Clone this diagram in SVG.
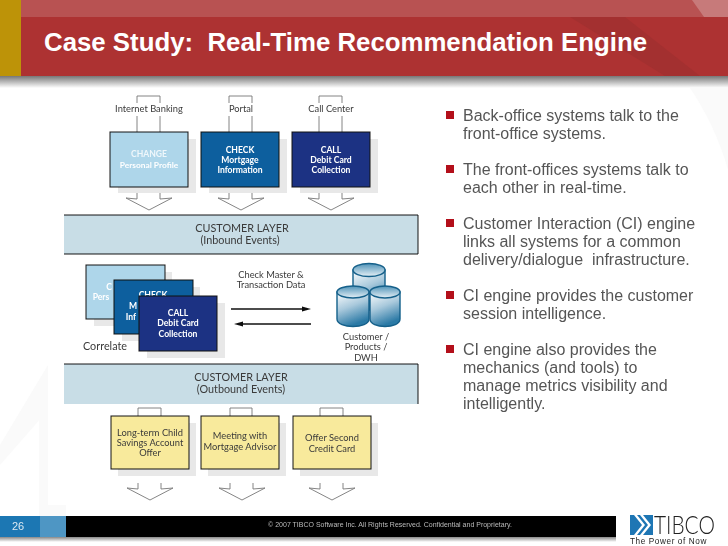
<svg xmlns="http://www.w3.org/2000/svg" width="728" height="546" viewBox="0 0 728 546">
<style>
.d{font-family:"Lato","Liberation Sans",sans-serif;font-size:9.3px;fill:#3a3a3a;text-anchor:middle}
.l{font-size:10.8px}
.w{font-family:"Lato","Liberation Sans",sans-serif;font-size:8.6px;font-weight:700;fill:#fff;text-anchor:middle}
.b{font-family:"Liberation Sans",Arial,sans-serif;font-size:16px;fill:#555}
.sh{fill:#e8e8e8}
.card{stroke:#111;stroke-width:1}
.layer{fill:#c8dde6}
.edge{stroke:#111;stroke-width:1;fill:none}
.ar{fill:none;stroke:#777;stroke-width:.9}
.bl{fill:#b30f1a}
.cy{fill:url(#cyl);stroke:#15608a;stroke-width:1.4}
.ct{fill:url(#cyt);stroke:#15608a;stroke-width:1.4}
</style>
<defs>
<linearGradient id="hs" x1="0" y1="0" x2="0" y2="1"><stop offset="0" stop-color="#777"/><stop offset="1" stop-color="#fff"/></linearGradient>
<linearGradient id="fs" x1="0" y1="0" x2="0" y2="1"><stop offset="0" stop-color="#888"/><stop offset="1" stop-color="#fff"/></linearGradient>
<linearGradient id="cyl" x1="0" y1="0" x2=".35" y2="1"><stop offset="0" stop-color="#fff"/><stop offset=".5" stop-color="#a9c9dc"/><stop offset="1" stop-color="#2c7aa6"/></linearGradient>
<linearGradient id="cyt" x1="0" y1="0" x2="0" y2="1"><stop offset="0" stop-color="#4f93b8"/><stop offset="1" stop-color="#e6f0f6"/></linearGradient>
<filter id="soft" x="-2%" y="-2%" width="104%" height="104%"><feGaussianBlur stdDeviation="0.35"/></filter>
<path id="down" class="ar" d="M0 0V6L-11 5 12 17 35 5 23 6V0"/>
<path id="up" class="ar" d="M0 36V0H23V36"/>
</defs>
<g id="background">
<rect width="728" height="546" fill="#fff"/>
<path d="M0 445L48 365V410L0 465Z" fill="#fafafa"/>
<rect x="39" y="410" width="27" height="106" fill="#fafafa"/>
<path d="M690 88H728V170C720 140 705 110 690 88Z" fill="#fafafa"/>
<rect x="48" y="90" width="380" height="415" fill="#fff"/>
</g>
<g id="header">
<rect y="76" width="728" height="12" fill="url(#hs)"/>
<rect width="728" height="76" fill="#ad3232"/>
<rect x="21" width="707" height="17" fill="#b85252"/>
<path d="M570 17L665 76H700L625 17Z" fill="#9e2f2f" opacity=".7"/>
<path d="M692 0L704 17H728V0Z" fill="#c77a7a"/>
<rect width="21" height="76" fill="#bd9308"/>
<text x="44" y="51" font-family="Liberation Sans,Arial,sans-serif" font-weight="700" font-size="25.5" fill="#fff" textLength="603" lengthAdjust="spacingAndGlyphs" xml:space="preserve">Case Study:  Real-Time Recommendation Engine</text>
</g>
<g filter="url(#soft)">
<g id="connectors">
<use href="#up" x="137" y="96"/><use href="#up" x="229" y="96"/><use href="#up" x="319" y="96"/>
<use href="#down" x="137" y="193"/><use href="#down" x="229" y="193"/><use href="#down" x="319" y="193"/>
<path class="ar" d="M138 416V408H161V416M230 416V408H252V416M320 416V408H343V416"/>
<use href="#down" x="138" y="483"/><use href="#down" x="230" y="483"/><use href="#down" x="320" y="483"/>
<path d="M231 309H307" stroke="#111" stroke-width="1.6"/><path d="M311 309L302 306.5V311.5Z" fill="#111"/>
<path d="M311 324H238" stroke="#111" stroke-width="1.6"/><path d="M234 324L243 321.5V326.5Z" fill="#111"/>
</g>
<g id="channel-internet"><rect x="114" y="103" width="70" height="13" fill="#fff"/><text class="d" x="149" y="112">Internet Banking</text></g>
<g id="channel-portal"><rect x="225" y="103" width="32" height="13" fill="#fff"/><text class="d" x="241" y="112">Portal</text></g>
<g id="channel-call"><rect x="306" y="103" width="50" height="13" fill="#fff"/><text class="d" x="331" y="112">Call Center</text></g>
<g id="change-top"><rect class="sh" x="118" y="139" width="78" height="54"/><rect class="card" x="110" y="132" width="78" height="55" fill="#aed6ea"/><text class="w" x="149" y="157" fill-opacity=".8">CHANGE</text><text class="w" x="149" y="168" style="font-size:8.4px">Personal Profile</text></g>
<g id="check-top"><rect class="sh" x="209" y="139" width="78" height="54"/><rect class="card" x="201" y="132" width="78" height="55" fill="#0f5f9e"/><text class="w" x="240" y="153">CHECK</text><text class="w" x="240" y="163">Mortgage</text><text class="w" x="240" y="173">Information</text></g>
<g id="call-top"><rect class="sh" x="300" y="139" width="78" height="54"/><rect class="card" x="292" y="132" width="78" height="55" fill="#1b3383"/><text class="w" x="331" y="153">CALL</text><text class="w" x="331" y="163">Debit Card</text><text class="w" x="331" y="173">Collection</text></g>
<g id="layer-inbound"><rect class="layer" x="64" y="215" width="354" height="39"/><path class="edge" d="M64 215H418V254H64"/><text class="d l" x="242" y="232">CUSTOMER LAYER</text><text class="d l" x="240" y="244">(Inbound Events)</text></g>
<g id="change-mid"><rect class="sh" x="94" y="272" width="78" height="54"/><rect class="card" x="86" y="265" width="79" height="54" fill="#aed6ea"/><text class="w" x="109" y="290">C</text><text class="w" x="101" y="300">Pers</text></g>
<g id="check-mid"><rect class="sh" x="122" y="287" width="78" height="54"/><rect class="card" x="114" y="280" width="79" height="54" fill="#0f5f9e"/><text class="w" x="153" y="298">CHECK</text><text class="w" x="133" y="309">M</text><text class="w" x="131" y="320">Inf</text></g>
<g id="call-mid"><rect class="sh" x="147" y="303" width="78" height="55"/><rect class="card" x="139" y="296" width="78" height="55" fill="#1b3383"/><text class="w" x="178" y="316">CALL</text><text class="w" x="178" y="326">Debit Card</text><text class="w" x="178" y="337">Collection</text></g>
<g id="correlate"><text class="d l" x="105" y="350">Correlate</text></g>
<g id="transaction-label"><text class="d" x="271" y="278">Check Master &amp;</text><text class="d" x="271" y="288">Transaction Data</text></g>
<g id="database">
<path class="cy" d="M353 270V310H385V270Z"/><ellipse class="ct" cx="369" cy="270" rx="16" ry="6.500"/>
<path class="cy" d="M337 292V319C337 329 369 329 369 319V292Z"/><ellipse class="ct" cx="353" cy="292" rx="16" ry="6"/>
<path class="cy" d="M370 292V319C370 329 400 329 400 319V292Z"/><ellipse class="ct" cx="385" cy="292" rx="15" ry="6"/>
<text class="d" x="366" y="340">Customer /</text><text class="d" x="366" y="350">Products /</text><text class="d" x="366" y="361">DWH</text>
</g>
<g id="layer-outbound"><rect class="layer" x="64" y="364" width="354" height="40"/><path class="edge" d="M64 364H418V404"/><text class="d l" x="241" y="381">CUSTOMER LAYER</text><text class="d l" x="241" y="393">(Outbound Events)</text></g>
<g id="offer-longterm"><rect class="sh" x="118" y="423" width="78" height="53"/><rect class="card" x="111" y="416" width="78" height="53" fill="#f8ea9c"/><text class="d" x="150" y="436">Long-term Child</text><text class="d" x="150" y="446">Savings Account</text><text class="d" x="150" y="456">Offer</text></g>
<g id="offer-meeting"><rect class="sh" x="208" y="423" width="78" height="53"/><rect class="card" x="201" y="416" width="78" height="53" fill="#f8ea9c" stroke-width="1.3"/><text class="d" x="240" y="439">Meeting with</text><text class="d" x="240" y="450">Mortgage Advisor</text></g>
<g id="offer-credit"><rect class="sh" x="300" y="423" width="78" height="53"/><rect class="card" x="293" y="416" width="78" height="53" fill="#f8ea9c"/><text class="d" x="332" y="441">Offer Second</text><text class="d" x="332" y="452">Credit Card</text></g>
</g>
<g id="bullets">
<rect class="bl" x="446" y="111" width="8" height="8"/><text class="b" x="463" y="121">Back-office systems talk to the</text><text class="b" x="463" y="139">front-office systems.</text>
<rect class="bl" x="446" y="165" width="8" height="8"/><text class="b" x="463" y="175">The front-offices systems talk to</text><text class="b" x="463" y="193">each other in real-time.</text>
<rect class="bl" x="446" y="219" width="8" height="8"/><text class="b" x="463" y="229">Customer Interaction (CI) engine</text><text class="b" x="463" y="247">links all systems for a common</text><text class="b" x="463" y="265" xml:space="preserve">delivery/dialogue  infrastructure.</text>
<rect class="bl" x="446" y="291" width="8" height="8"/><text class="b" x="463" y="301">CI engine provides the customer</text><text class="b" x="463" y="319">session intelligence.</text>
<rect class="bl" x="446" y="345" width="8" height="8"/><text class="b" x="463" y="355">CI engine also provides the</text><text class="b" x="463" y="373">mechanics (and tools) to</text><text class="b" x="463" y="391">manage metrics visibility and</text><text class="b" x="463" y="409">intelligently.</text>
</g>
<g id="footer">
<rect y="537" width="616" height="5" fill="url(#fs)"/>
<rect y="516" width="616" height="21" fill="#000"/>
<rect y="516" width="40" height="21" fill="#1c77b3"/>
<rect x="40" y="516" width="26" height="21" fill="#4e96c4"/>
<text x="12" y="530" font-family="Liberation Sans,Arial,sans-serif" font-size="11" fill="#dce9f2">26</text>
<text x="390" y="527" font-family="Liberation Sans,Arial,sans-serif" font-size="7" fill="#bbb" text-anchor="middle">© 2007 TIBCO Software Inc. All Rights Reserved. Confidential and Proprietary.</text>
<rect x="630" y="515" width="23" height="20" fill="#1e76b4"/>
<path d="M634 515L642 525 634 535H637L645 525 637 515ZM640 515L648 525 640 535H643L651 525 643 515Z" fill="#fff"/>
<text transform="translate(654 534) scale(.8 1)" font-family="Lato,Liberation Sans,sans-serif" font-weight="300" font-size="26" fill="#222">TIBCO</text>
<text x="630" y="543.500" font-family="Liberation Sans,Arial,sans-serif" font-size="8.200" letter-spacing=".6" fill="#222">The Power of Now</text>
</g>
</svg>
